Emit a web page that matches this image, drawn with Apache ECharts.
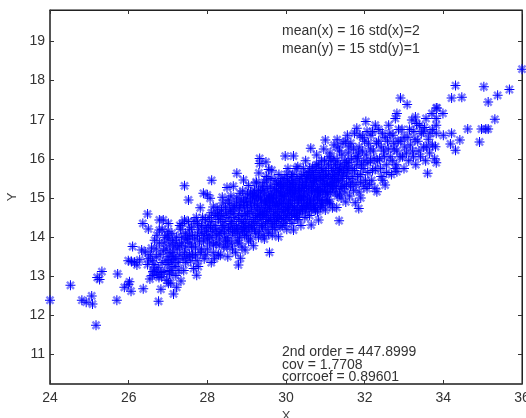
<!DOCTYPE html>
<html>
<head>
<meta charset="utf-8">
<title>scatter</title>
<script src="https://cdn.jsdelivr.net/npm/echarts@6/dist/echarts.min.js"></script>
<style>
html, body { margin: 0; padding: 0; background: #fff; }
#chart { width: 526px; height: 418px; }
</style>
</head>
<body>
<div id="chart"></div>
<script>
var xTicks = [24, 26, 28, 30, 32, 34, 36];
var yTicks = [11, 12, 13, 14, 15, 16, 17, 18, 19];

// left to right
var tailLow = [
	[24.0,12.39],[24.52,12.77],[24.81,12.39],[24.92,12.34],[25.06,12.5],[25.08,12.29],[25.17,11.75],[25.2,12.97],
	[25.26,12.92],[25.32,13.12],[25.7,12.39],[25.72,13.06],[26.02,12.86],[25.89,12.72],[25.99,12.8],[26.06,12.62],
	[26.37,12.68],[26.76,12.36],[27.14,12.55],[26.82,12.67],[27.33,12.88],[27.22,12.72],[27.07,12.83],[26.97,12.9],
	[26.77,12.97],[26.54,12.93],[26.65,13.16],[26.1,13.76],[26.33,13.67],[25.99,13.4],[26.21,13.29],[26.15,13.36],
	[26.07,13.38],[26.28,13.42],[26.48,14.59],[26.36,14.35],[26.5,14.21],[26.78,14.44],[26.88,14.44],[27.01,14.35],
	[26.78,14.18],[26.84,12.99],[26.72,13.05],[27.01,12.82],[26.6,13.02]
];
var bandLeft = [
	[26.42,13.62],[26.55,13.55],[26.6,13.4],[26.48,13.3],[26.7,13.7],[26.66,13.92],[26.72,14.05],[26.85,14.2],
	[26.9,13.85],[26.8,13.55],[26.95,13.4],[26.75,13.22],[26.62,13.12],[26.9,13.12],[27.0,13.3],[27.05,13.6],
	[27.02,13.95],[27.1,14.1],[27.15,13.75],[27.2,13.45],[27.1,13.15],[27.2,13.02],[27.3,13.55],[27.35,13.85],
	[27.32,14.2],[27.42,14.44],[27.3,14.3],[27.42,13.6],[27.45,13.35],[27.5,13.95],[27.55,14.2],[27.6,13.75],
	[27.65,13.2],[27.73,13.03],[27.77,13.25],[27.7,13.55],[27.72,14.5],[27.75,14.05],[27.82,14.75],[27.85,14.3],
	[27.9,13.9],[27.92,13.45],[27.98,14.15],[28.0,13.7],[28.05,14.5],[28.1,13.35],[28.15,14.77],[28.12,14.0],
	[28.2,14.3],[28.22,13.85],[28.28,13.55],[28.33,13.54],[28.3,14.6],[28.35,14.15],[28.4,14.87],[28.42,13.75],
	[28.45,14.4],[28.5,14.0],[28.53,14.95],[28.52,13.5],[28.6,14.7],[28.58,14.25],[28.62,13.85],[28.7,14.5],
	[28.72,13.6],[28.75,15.0],[28.79,13.29],[28.78,14.1],[28.83,15.12],[28.84,13.46],[28.85,14.8],[28.88,13.75],
	[28.92,14.35],[28.96,13.67],[28.98,15.0],[29.0,14.05],[29.02,14.6],[29.05,13.9],[29.1,15.15],[29.12,14.3],
	[29.17,13.78],[29.2,14.85],[29.22,14.1],[29.25,15.38],[29.28,14.55],[29.3,14.0],[29.35,15.0],[29.38,14.3],
	[27.42,15.31],[27.52,14.95],[27.9,15.12],[28.07,14.99],[28.0,15.08],[28.11,15.45],[28.5,15.27],[28.66,15.3],
	[28.75,15.63],[28.92,15.46],[29.33,16.01],[29.49,15.92],[29.33,15.88],[29.31,15.64],[29.56,15.73],[29.24,15.41],
	[29.51,15.46],[28.6,15.05],[28.38,15.02],[28.9,15.18],[29.05,15.32],[29.15,15.05]
];
var bandCore = [
	[29.4,14.6],[29.42,15.2],[29.45,13.95],[29.48,14.85],[29.5,15.55],[29.52,14.2],[29.55,15.05],[29.58,13.61],
	[29.56,14.45],[29.6,15.3],[29.62,14.7],[29.64,15.71],[29.65,14.05],[29.68,15.0],[29.7,14.35],[29.72,15.45],
	[29.74,14.85],[29.76,15.2],[29.78,14.55],[29.81,14.01],[29.82,15.6],[29.84,14.95],[29.85,14.25],[29.88,15.3],
	[29.9,14.7],[29.92,15.05],[29.94,14.45],[29.95,15.5],[29.98,16.07],[30.0,14.85],[30.02,14.2],[30.04,15.2],
	[30.05,15.75],[30.08,14.6],[30.1,15.4],[30.12,14.95],[30.15,14.35],[30.16,15.6],[30.19,16.07],[30.19,14.18],
	[30.2,15.1],[30.22,14.75],[30.25,15.35],[30.28,14.5],[30.3,15.8],[30.32,14.95],[30.35,15.2],[30.38,14.3],
	[30.4,15.55],[30.42,14.7],[30.45,15.05],[30.48,14.5],[30.5,15.95],[30.52,15.3],[30.55,14.85],[30.58,15.6],
	[30.6,14.55],[30.63,16.27],[30.64,14.31],[30.65,15.15],[30.68,15.8],[30.7,14.95],[30.72,15.45],[30.75,14.7],
	[30.78,16.1],[30.8,15.25],[30.83,14.44],[30.84,15.65],[30.86,14.95],[30.9,15.95],[30.92,15.35],[30.94,14.8],
	[30.96,16.25],[31.0,16.48],[31.0,14.69],[31.02,15.55],[31.04,15.1],[31.08,15.85],[31.1,14.9],[31.12,16.15],
	[31.15,15.4],[31.18,14.75],[31.2,15.7],[31.22,16.35],[31.25,15.15],[31.29,14.76],[31.3,16.49],[31.3,15.95],
	[31.33,15.45],[31.35,14.42],[31.36,16.2],[31.4,15.0],[31.42,15.7],[31.45,16.4],[31.48,15.3],[31.52,14.9],
	[31.54,15.9],[31.56,16.6],[31.58,16.15],[31.6,15.5],[31.62,15.05],[31.65,16.4],[31.68,15.75],[31.72,15.2],
	[31.76,14.88],[31.78,16.05],[31.8,16.78],[31.82,15.55],[31.85,14.73],[31.86,16.3],[31.9,15.0],[31.92,15.85],
	[31.95,16.55],[31.98,15.3],[32.03,16.95],[32.04,16.1],[32.06,15.24],[32.08,15.65],[32.1,16.4],[32.15,15.95],
	[32.18,15.45],[32.2,16.7],[32.22,16.2],[32.27,16.86],[32.28,15.75],[32.31,15.16],[32.35,16.45],[32.38,16.0],
	[32.42,15.55],[32.45,16.65],[32.48,16.2],[32.52,15.33],[32.55,15.85],[32.58,16.45],[32.61,16.86],[32.65,16.05],
	[32.68,15.6],[32.72,16.6],[32.75,16.25],[32.78,17.03],[32.8,15.85],[32.82,17.16],[32.82,15.67],[32.85,16.45],
	[32.91,17.55],[32.9,16.05],[32.95,16.75],[33.0,15.75],[33.02,16.3],[33.08,17.39],[33.1,16.55],[33.12,15.95],
	[33.2,16.99],[33.22,16.2],[33.25,16.7],[33.29,17.07],[33.3,15.85],[33.35,16.45],[33.4,16.85],[33.42,16.05],
	[33.49,16.69],[33.5,16.3],[33.56,17.03],[33.55,15.95],[33.6,15.63],[33.62,16.5],[33.65,16.15],[33.71,17.16],
	[33.72,16.75],[33.8,16.31],[33.82,17.3],[33.82,17.03],[33.82,16.86],[33.82,16.65],[33.82,15.9],[33.84,17.3],
	[33.99,17.16],[34.0,16.6],[34.18,16.38],[34.21,16.65],[34.21,17.55],[34.31,17.87],[34.31,16.22],[34.42,16.48],
	[34.47,17.57],[34.62,16.76],[34.92,16.43],[34.97,16.76],[35.03,17.84],[35.08,16.76],[35.14,16.76],[35.14,17.45],
	[35.31,17.01],[35.38,17.62],[35.68,17.77],[36.0,18.29]
];
// solid middle of the cloud, x 29 to 31.5
var denseMiddle = [
	[29.02,14.8],[29.08,14.45],[29.14,15.0],[29.18,14.4],[29.24,14.7],[29.3,15.2],[29.34,14.75],[29.4,14.25],
	[29.44,15.4],[29.46,14.65],[29.5,14.95],[29.54,14.4],[29.6,14.9],[29.62,15.5],[29.66,14.25],[29.7,14.8],
	[29.72,15.1],[29.76,14.4],[29.8,15.35],[29.82,14.7],[29.86,15.15],[29.88,14.5],[29.9,15.5],[29.94,14.9],
	[29.98,14.35],[30.0,15.35],[30.02,15.6],[30.06,14.95],[30.08,15.1],[30.1,14.45],[30.14,15.55],[30.16,14.8],
	[30.18,15.3],[30.22,14.55],[30.26,15.75],[30.28,15.0],[30.3,14.45],[30.34,15.4],[30.36,14.7],[30.4,14.95],
	[30.44,15.75],[30.46,15.25],[30.5,14.65],[30.54,15.5],[30.56,15.1],[30.6,15.75],[30.62,14.9],[30.66,15.4],
	[30.7,15.6],[30.72,14.75],[30.76,15.2],[30.78,15.85],[30.8,14.65],[30.84,15.1],[30.88,15.5],[30.9,14.85],
	[30.94,15.7],[30.98,15.3],[31.02,14.95],[31.06,15.35],[31.08,15.6],[31.12,14.85],[31.14,15.95],[31.18,15.25],
	[31.22,15.5],[31.26,15.85],[31.3,15.05],[31.34,15.65],[31.38,15.25],[31.44,15.5],[31.5,15.15],[31.56,15.7],
	[28.2,14.55],[28.3,14.1],[28.4,14.55],[28.46,14.75],[28.55,14.5],[28.62,14.4],[28.68,14.8],[28.74,14.3],
	[28.8,14.6],[28.86,14.95],[28.9,14.15],[28.94,14.75],[28.98,14.45],[27.6,14.25],[27.75,14.35],[27.95,14.45],
	[28.08,14.25],[28.25,14.75],[27.35,14.0],[27.25,13.7],[27.15,13.5],[27.05,13.8],[26.95,13.7],[27.0,13.5],
	[26.85,13.35],[27.1,13.35],[26.98,14.05],[27.45,13.75],[27.55,13.55],[27.85,13.7],[28.0,13.95],[28.15,13.6],
	[28.3,13.8],[28.5,13.75],[28.65,14.05],[28.8,13.85]
];
var fillPoints = [
	[26.5,13.45],[26.58,13.72],[26.64,13.3],[26.7,13.5],[26.78,13.85],[26.82,13.1],[26.88,13.65],[26.92,14.0],
	[27.0,14.15],[27.04,13.05],[27.08,13.42],[27.12,13.92],[27.18,13.25],[27.22,14.0],[27.26,13.35],[27.3,13.78],
	[27.36,14.35],[27.4,13.15],[27.44,14.1],[27.48,13.5],[27.52,14.4],[27.56,13.85],[27.58,13.4],[27.62,14.05],
	[27.66,14.4],[27.7,13.75],[27.74,13.4],[27.78,14.2],[27.82,13.6],[27.88,14.5],[27.92,14.05],[27.96,13.55],
	[28.02,14.3],[28.06,13.85],[28.1,14.62],[28.14,14.15],[28.18,13.45],[28.24,14.05],[28.28,14.45],[28.32,13.95],
	[28.36,14.7],[28.38,14.3],[28.44,14.1],[28.48,14.6],[28.52,13.9],[28.56,14.85],[28.6,14.35],[28.64,13.7],
	[28.66,14.6],[28.7,14.2],[28.74,14.9],[28.76,13.9],[28.8,14.45],[28.82,14.0],[28.86,14.25],[28.88,14.55],
	[28.92,14.9],[28.95,14.05],[28.98,14.25],[29.02,15.1],[29.04,14.3],[29.06,14.65],[29.1,13.95],[29.1,14.9],
	[29.14,14.25],[29.16,14.6],[29.2,15.2],[29.2,14.2],[29.24,14.95],[29.26,14.35],[29.28,14.8],[29.3,15.05],
	[29.32,14.15],[29.34,14.45],[29.36,14.6],[29.38,14.9],[29.4,15.3],[29.42,14.05],[29.44,14.75],[29.46,15.1],
	[29.48,14.35],[29.5,14.55],[29.52,15.25],[29.54,14.8],[29.56,14.1],[29.58,15.0],[29.6,14.5],[29.62,15.15],
	[29.64,14.35],[29.66,14.9],[29.68,14.6],[29.7,15.25],[29.72,14.2],[29.74,14.65],[29.76,15.0],[29.78,14.8],
	[29.8,14.45],[29.82,15.15],[29.84,14.55],[29.86,15.4],[29.88,14.85],[29.9,14.3],[29.92,15.25],[29.94,14.65],
	[29.96,15.05],[29.98,14.75],[30.0,15.1],[30.02,14.5],[30.04,15.45],[30.06,14.75],[30.08,15.3],[30.1,14.85],
	[30.12,15.2],[30.14,14.6],[30.16,15.05],[30.18,14.7],[30.2,15.45],[30.22,14.95],[30.24,15.2],[30.26,14.6],
	[30.28,15.55],[30.3,14.85],[30.32,15.25],[30.34,14.6],[30.36,15.5],[30.38,15.05],[30.4,14.8],[30.42,15.35],
	[30.44,14.95],[30.46,15.6],[30.48,15.15],[30.5,15.4],[30.52,14.8],[30.54,15.0],[30.56,15.65],[30.58,15.25],
	[30.6,14.95],[30.62,15.5],[30.64,14.7],[30.66,15.6],[30.68,15.2],[30.7,15.35],[30.72,15.05],[30.74,15.7],
	[30.76,14.85],[30.78,15.45],[30.8,15.0],[30.82,15.85],[30.84,15.3],[30.86,15.55],[30.88,15.15],[30.9,15.75],
	[30.92,14.95],[30.94,15.2],[30.96,15.5],[30.98,15.95],[31.0,15.15],[31.02,15.75],[31.04,15.35],[31.06,14.95],
	[31.1,16.05],[31.12,15.5],[31.14,15.15],[31.16,15.75],[31.2,15.3],[31.22,16.0],[31.24,15.6],[31.28,15.3],
	[31.3,15.75],[31.32,16.3],[31.36,15.1],[31.38,15.85],[31.4,15.5],[31.42,16.1],[31.46,15.65],[31.5,15.95],
	[31.52,16.45],[31.54,15.35],[31.58,15.75],[31.6,16.3],[31.64,15.3],[31.66,16.0],[31.7,15.55],[31.72,16.25],
	[31.74,16.65],[31.78,15.35],[31.8,15.85],[31.84,16.15],[31.86,15.15],[31.88,16.6],[31.9,15.6],[31.94,16.2],
	[31.96,15.75],[32.0,16.45],[32.02,15.45],[32.06,16.7],[32.08,15.9],[32.12,15.35],[32.14,16.25],[32.16,16.6],
	[32.2,15.7],[32.24,16.0],[32.26,15.25],[32.3,16.4],[32.32,15.95],[32.36,16.75],[32.4,15.75],[32.42,16.3],
	[32.46,15.45],[32.5,16.05],[32.52,16.55],[32.56,15.65],[32.6,16.25],[32.64,16.65],[32.7,15.95],[32.74,16.4],
	[32.78,15.75],[32.82,16.2],[32.86,16.75],[32.92,16.45],[32.96,16.05],[33.0,16.55],[33.06,16.15],[33.14,16.75],
	[33.16,16.35],[33.24,16.05],[33.28,16.5],[33.32,16.9],[33.38,16.2],[33.44,16.65],[33.52,16.8],[33.58,16.3],
	[33.66,16.65],[33.72,16.35],[33.78,16.0]
];
var extraPoints = [
	[27.05,13.15],[27.12,13.6],[27.2,13.85],[27.28,13.15],[27.38,13.45],[27.46,13.95],[27.54,14.05],[27.62,13.55],
	[27.68,13.95],[27.8,13.9],[27.86,14.1],[27.94,14.25],[28.04,14.05],[28.1,14.4],[28.16,13.8],[28.22,14.2],
	[28.26,14.6],[28.34,14.45],[28.42,14.25],[28.46,13.9],[28.54,14.2],[28.58,14.65],[28.64,14.15],[28.7,14.75],
	[28.76,14.2],[28.82,14.75],[28.88,14.4],[28.94,14.2],[28.96,14.6],[29.0,14.9],[29.06,14.15],[29.12,14.75],
	[29.18,15.1],[29.22,14.5],[29.26,15.05],[29.32,14.6],[29.36,15.15],[29.42,14.5],[29.46,14.95],[29.52,14.65],
	[29.58,14.75],[29.64,15.05],[29.7,14.5],[29.76,15.35],[29.82,14.85],[29.88,15.05],[29.94,15.3],[29.98,14.55],
	[30.04,14.7],[30.1,15.2],[30.16,15.35],[30.22,15.15],[30.28,14.7],[30.34,15.1],[30.4,15.25],[30.46,14.8],
	[30.52,15.5],[30.58,14.75],[30.64,15.3],[30.7,14.8],[30.76,15.5],[30.82,15.15],[30.88,14.75],[30.94,15.45],
	[31.0,15.6],[31.06,15.15],[31.12,15.3],[31.18,15.55],[31.24,15.4],[31.3,15.5],[31.36,15.7],[31.42,15.3],
	[31.48,15.8],[31.54,15.55],[31.6,15.9],[31.68,15.4],[31.74,15.7],[31.82,16.0],[31.9,15.4],[31.98,15.95]
];

var points = tailLow.concat(bandLeft, bandCore, denseMiddle, fillPoints, extraPoints);

var plusPath = 'path://M4.5 0h1v4.5h4.5v1h-4.5v4.5h-1v-4.5h-4.5v-1h4.5z';
var fatPlusPath = 'path://M3.8 0h2.4v3.8h3.8v2.4h-3.8v3.8h-2.4v-3.8h-3.8v-2.4h3.8z';

var myChart = echarts.init(document.getElementById('chart'));
var option = {
	animation : false,
	backgroundColor : '#fff',
	textStyle : {
		fontFamily : 'Liberation Sans'
	},
	grid : {
		left : 50,
		right : 4,
		top : 10,
		bottom : 34,
		show : true,
		borderColor : '#111',
		borderWidth : 1,
		outerBoundsMode : 'none'
	},
	xAxis : [ {
		type : 'value',
		min : 24,
		max : 36,
		interval : 2,
		name : 'X',
		nameLocation : 'middle',
		nameGap : 23,
		nameTextStyle : { color : '#444', fontSize : 13 },
		splitLine : { show : false },
		axisLine : { onZero : false, lineStyle : { color : '#444', width : 1.5 } },
		axisTick : { inside : true, length : 4, lineStyle : { color : '#333' } },
		axisLabel : { color : '#333', fontSize : 14, margin : 7, showMaxLabel : true, showMinLabel : true, customValues : xTicks }
	}, {
		type : 'value',
		position : 'top',
		min : 24,
		max : 36,
		interval : 2,
		splitLine : { show : false },
		axisLine : { onZero : false, lineStyle : { color : '#222' } },
		axisTick : { inside : true, length : 4, lineStyle : { color : '#333' } },
		axisLabel : { show : false }
	} ],
	yAxis : [ {
		type : 'value',
		min : 10.25,
		max : 19.8,
		name : 'Y',
		nameLocation : 'middle',
		nameRotate : 90,
		nameGap : 30,
		nameTextStyle : { color : '#444', fontSize : 13 },
		splitLine : { show : false },
		axisLine : { onZero : false, lineStyle : { color : '#444', width : 1.5 } },
		axisTick : { inside : true, length : 4, customValues : yTicks, lineStyle : { color : '#333' } },
		axisLabel : { color : '#333', fontSize : 14, margin : 5, customValues : yTicks }
	}, {
		type : 'value',
		position : 'right',
		min : 10.25,
		max : 19.8,
		splitLine : { show : false },
		axisLine : { onZero : false, lineStyle : { color : '#222' } },
		axisTick : { inside : true, length : 4, customValues : yTicks, lineStyle : { color : '#333' } },
		axisLabel : { show : false }
	} ],
	series : [ {
		name : 'diagonal',
		type : 'scatter',
		data : points,
		symbol : fatPlusPath,
		symbolSize : 10,
		symbolRotate : 45,
		itemStyle : { color : '#0000ff', opacity : 0.5 },
		silent : true,
		clip : false
	}, {
		name : 'cross',
		type : 'scatter',
		data : points,
		symbol : plusPath,
		symbolSize : 10,
		itemStyle : { color : '#0000ff', opacity : 1 },
		silent : true,
		clip : false
	} ],
	graphic : [
		{ type : 'text', left : 282, top : 24, z : 100, style : { text : 'mean(x) = 16 std(x)=2', fill : '#333', font : '14px Liberation Sans' } },
		{ type : 'text', left : 282, top : 42, z : 100, style : { text : 'mean(y) = 15 std(y)=1', fill : '#333', font : '14px Liberation Sans' } },
		{ type : 'text', left : 282, top : 345, z : 100, style : { text : '2nd order = 447.8999', fill : '#333', font : '14px Liberation Sans' } },
		{ type : 'text', left : 282, top : 358, z : 100, style : { text : 'cov = 1.7708', fill : '#333', font : '14px Liberation Sans' } },
		{ type : 'text', left : 282, top : 370, z : 100, style : { text : 'corrcoef = 0.89601', fill : '#333', font : '14px Liberation Sans' } }
	]
};
myChart.setOption(option);
</script>
</body>
</html>
